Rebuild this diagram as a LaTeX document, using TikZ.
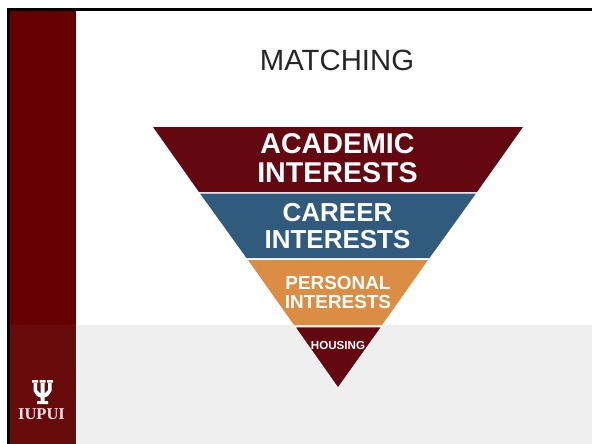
\documentclass[tikz,border=0pt]{standalone}
\usepackage{fontspec}
\setmainfont{Liberation Sans}
\newfontfamily\logofont{Liberation Serif}
\definecolor{crimson}{HTML}{660000}
\definecolor{crimsonlow}{HTML}{660A0A}
\definecolor{winered}{HTML}{630810}
\definecolor{steelblue}{HTML}{305B7C}
\definecolor{orangebar}{HTML}{DC8D44}
\definecolor{lowgray}{HTML}{EFEFEF}
\newcommand{\pxfont}[2]{\fontsize{#1}{#2}\selectfont}

\begin{document}
\begin{tikzpicture}[x=1pt,y=-1pt]

    \tikzstyle{level} = [align=center, text=white, inner sep=0pt]

    \useasboundingbox (0,0) rectangle (592,444);
    \fill[white] (0,0) rectangle (592,444);
    \fill[lowgray] (76.5,325) rectangle (592,444);
    \fill[crimson] (10,11) rectangle (76,325);
    \fill[crimsonlow] (10,325) rectangle (76,444);
    \fill[black] (7,8) rectangle (10,444);
    \fill[black] (7,8) rectangle (592,11);

    \node[font=\pxfont{29.3}{30}, text=black!85] (title) at (337,60) {MATCHING};

    \fill[winered] (153,127) -- (523,127) -- (477,192) -- (199,192) -- cycle;
    \fill[steelblue] (200,193.5) -- (476,193.5) -- (429.5,258) -- (246.5,258) -- cycle;
    \fill[orangebar] (248,260) -- (428,260) -- (382,325) -- (294,325) -- cycle;
    \filldraw[fill=winered, draw=white, line width=0.8pt] (295,327) -- (381.5,327) -- (338,388) -- cycle;

    \node[level, font=\bfseries\pxfont{28.6}{29}] (academic) at (337.5,158) {ACADEMIC\\INTERESTS};
    \node[level, font=\bfseries\pxfont{26}{27}] (career) at (337.5,226) {CAREER\\INTERESTS};
    \node[level, font=\bfseries\pxfont{18.9}{18.5}] (personal) at (338,292.5) {PERSONAL\\INTERESTS};
    \node[level, font=\bfseries\pxfont{11.6}{12}] (housing) at (338,346) {HOUSING};

    % logo
    \fill[white] (32,380) rectangle (38,382.5) (39.5,380) rectangle (45.5,382.5) (47,380) rectangle (53,382.5)
                 (33.5,382) -- (37,382) -- (37,390) -- (40.5,393.5) -- (40.5,382) -- (44.5,382) -- (44.5,393.5) -- (48,390) -- (48,382) -- (51.5,382) -- (51.5,391) -- (48,396) -- (44.5,397.5) -- (44.5,401) -- (48,401) -- (48,404) -- (37,404) -- (37,401) -- (40.5,401) -- (40.5,397.5) -- (37,396) -- (33.5,391) -- cycle;
    \node[font=\logofont\bfseries\pxfont{16.5}{17}, text=white!90!crimson] (iupui) at (41.5,414.5) {IUPUI};

\end{tikzpicture}
\end{document}
